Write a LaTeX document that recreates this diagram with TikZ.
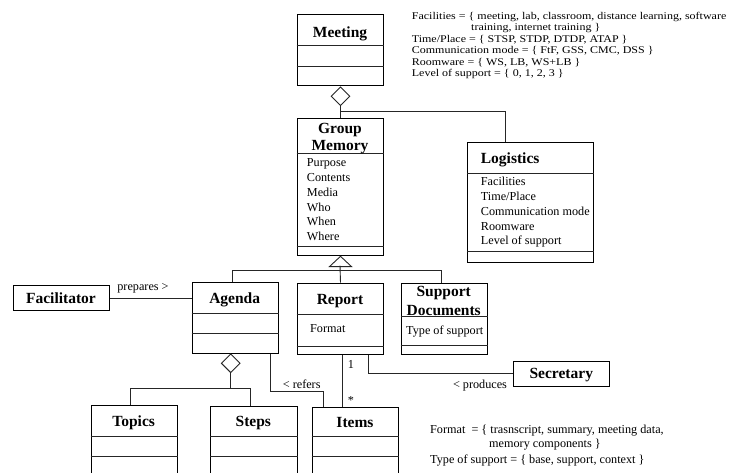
\documentclass[tikz,border=0pt]{standalone}
\usepackage{fontspec}
\usepackage{graphicx}
\setmainfont{Liberation Serif}
\usetikzlibrary{shapes.geometric}
\newcommand\mytitlefont{\fontsize{15.5}{17}\selectfont\bfseries}
\newcommand\mytextfont{\fontsize{12.2}{14.5}\selectfont}
\newcommand\mynotefont{\fontsize{12}{14}\selectfont}
\newcommand\mynote[1]{\scalebox{1}[0.86]{#1}}
\newcommand\mysep[2]{\draw[sepline] (#1.west |- 0,#2) -- (#1.east |- 0,#2);}
\begin{document}
\begin{tikzpicture}[x=1pt,y=-1pt,
  box/.style={draw=black, line width=1pt, inner sep=0pt, anchor=north west},
  sepline/.style={draw=black!85, line width=0.9pt},
  ttl/.style={font=\mytitlefont, anchor=base, inner sep=0pt},
  ttlw/.style={font=\mytitlefont, anchor=base west, inner sep=0pt},
  attr/.style={font=\mytextfont, anchor=base west, inner sep=0pt},
  note/.style={font=\mynotefont, anchor=base west, inner sep=0pt},
  lab/.style={font=\mytextfont, anchor=base, inner sep=0pt},
  conn/.style={draw=black!85, line width=0.9pt},
  dia/.style={draw=black!85, line width=0.9pt, diamond, aspect=1, minimum width=19pt, minimum height=19pt, inner sep=0pt, anchor=north, fill=white}
]
\clip (0,0) rectangle (733,472);
\fill[white] (0,0) rectangle (733,472);

% ---- boxes ----
\node[box, minimum width=86.6pt, minimum height=71pt] (meeting) at (296.7,14.3) {};
\node[box, minimum width=86.6pt, minimum height=137pt] (gm) at (296.7,118.3) {};
\node[box, minimum width=126pt, minimum height=119.7pt] (logi) at (467.3,142.3) {};
\node[box, minimum width=86pt, minimum height=71.3pt] (agenda) at (191.7,282) {};
\node[box, minimum width=86.6pt, minimum height=71.6pt] (report) at (296.7,282.7) {};
\node[box, minimum width=86pt, minimum height=71.6pt] (supdoc) at (400.7,282.7) {};
\node[box, minimum width=96.6pt, minimum height=25pt] (facil) at (12.7,285.3) {};
\node[box, minimum width=96pt, minimum height=24.7pt] (secr) at (513.3,361) {};
\node[box, minimum width=86pt, minimum height=80pt] (topics) at (90.7,405) {};
\node[box, minimum width=86.7pt, minimum height=80pt] (steps) at (210,405.7) {};
\node[box, minimum width=86.6pt, minimum height=80pt] (items) at (311.7,406.7) {};

\mysep{meeting}{45.7}\mysep{meeting}{66}
\mysep{gm}{153.7}\mysep{gm}{246.3}
\mysep{logi}{173.3}\mysep{logi}{251.7}
\mysep{agenda}{313.3}\mysep{agenda}{333.7}
\mysep{report}{314.7}\mysep{report}{346.3}
\mysep{supdoc}{316.3}\mysep{supdoc}{345}
\mysep{topics}{436.7}\mysep{topics}{456.7}
\mysep{steps}{436.7}\mysep{steps}{456.7}
\mysep{items}{436.7}\mysep{items}{456.7}

% ---- titles ----
\node[ttl] (tmeeting) at (340,37.5) {Meeting};
\node[ttl] (tgroup) at (340,133) {Group};
\node[ttl] (tmemory) at (340,150) {Memory};
\node[ttlw] (tlogi) at (480.7,163) {Logistics};
\node[ttl] (tagenda) at (234.7,303) {Agenda};
\node[ttl] (treport) at (340,304) {Report};
\node[ttl] (tsupport) at (443.7,296) {Support};
\node[ttl] (tdocs) at (443.7,315) {Documents};
\node[ttl] (tfacil) at (61,303) {Facilitator};
\node[ttl] (tsecr) at (561.3,378.5) {Secretary};
\node[ttl] (ttopics) at (133.7,426) {Topics};
\node[ttl] (tsteps) at (253.3,426.5) {Steps};
\node[ttl] (titems) at (355,427) {Items};

% ---- attributes ----
\foreach \t [count=\i] in {Purpose,Contents,Media,Who,When,Where}
  \node[attr] (gma\i) at (306.7,{166.7+14.8*(\i-1)}) {\t};
\foreach \t [count=\i] in {Facilities,Time/Place,Communication mode,Roomware,Level of support}
  \node[attr] (loa\i) at (480.7,{185.7+14.8*(\i-1)}) {\t};
\node[attr] (rfmt) at (310,332) {Format};
\node[attr] (sdtype) at (406,334.7) {Type of support};

% ---- connectors ----
\node[dia] (agg1) at (meeting.south) {};
\draw[conn] (agg1.south) -- (gm.north);
\coordinate (j1) at (340,111.3);
\coordinate (j2) at (505.7,111.3);
\draw[conn] (j1) -- (j2) -- (logi.north -| j2);

\draw[conn, fill=white] (gm.south) -- ++(-11,10.3) -- ++(22,0) -- cycle;
\coordinate (tb) at (340,265.6);
\draw[conn] (tb) -- (report.north);
\coordinate (bl) at (232,270);
\coordinate (br) at (441,270);
\draw[conn] (bl) -- (br);
\draw[conn] (bl) -- (agenda.north -| bl);
\draw[conn] (br) -- (supdoc.north -| br);

\draw[conn] (facil.east) -- (agenda.west |- facil.east);
\node[lab] (lprep) at (143,290) {prepares >};

\node[dia] (agg2) at (230.7,353.3) {};
\coordinate (b2) at (230.7,388.3);
\coordinate (tl) at (130.3,388.3);
\coordinate (sr) at (250,388.3);
\draw[conn] (agg2.south) -- (b2);
\draw[conn] (tl) -- (sr);
\draw[conn] (tl) -- (topics.north -| tl);
\draw[conn] (sr) -- (steps.north -| sr);

\coordinate (rx) at (270,391.7);
\coordinate (ry) at (323.3,391.7);
\draw[conn] (agenda.south -| rx) -- (rx) -- (ry) -- (items.north -| ry);
\node[lab] (lref) at (301.7,388.3) {< refers};

\coordinate (ri) at (342.7,380);
\draw[conn] (report.south -| ri) -- (items.north -| ri);
\node[lab] (lone) at (351,368.3) {1};
\node[lab] (lstar) at (351,404) {*};

\coordinate (rs) at (368.3,374);
\draw[conn] (report.south -| rs) |- (secr.west);
\node[lab] (lprod) at (480,388) {< produces};

% ---- notes ----
\node[note] (n1) at (411.7,19) {\mynote{Facilities = \{ meeting, lab, classroom, distance learning, software}};
\node[note] (n2) at (471,30.5) {\mynote{training, internet training \}}};
\node[note] (n3) at (411.7,42) {\mynote{Time/Place = \{ STSP, STDP, DTDP, ATAP \}}};
\node[note] (n4) at (411.7,53.5) {\mynote{Communication mode = \{ FtF, GSS, CMC, DSS \}}};
\node[note] (n5) at (411.7,65) {\mynote{Roomware = \{ WS, LB, WS+LB \}}};
\node[note] (n6) at (411.7,76.5) {\mynote{Level of support = \{ 0, 1, 2, 3 \}}};

\node[attr] (m1) at (430,433) {Format~ = \{ trasnscript, summary, meeting data,};
\node[attr] (m2) at (489,447.7) {memory components \}};
\node[attr] (m3) at (430,463) {Type of support = \{ base, support, context \}};
\end{tikzpicture}
\end{document}
